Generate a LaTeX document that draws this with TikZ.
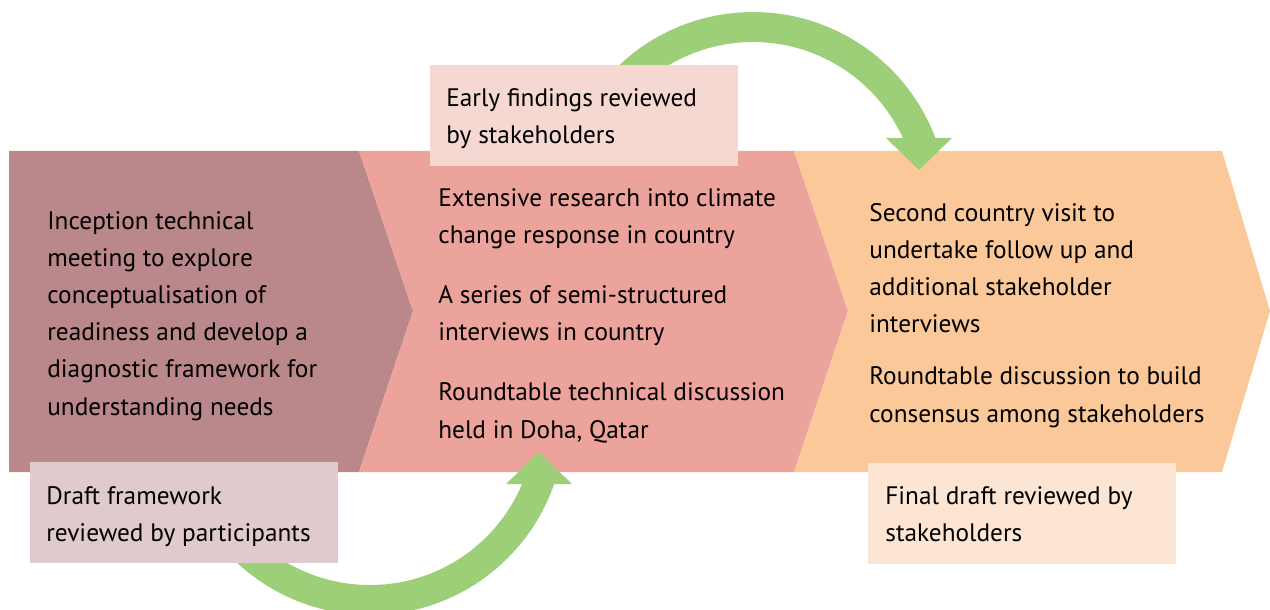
\documentclass[tikz,border=0pt]{standalone}
\usepackage{fontspec}
\setmainfont{PT Sans}
\definecolor{chevA}{HTML}{BA888A}
\definecolor{chevB}{HTML}{ECA39C}
\definecolor{chevC}{HTML}{FBC89A}
\definecolor{noteA}{HTML}{E0CACD}
\definecolor{noteB}{HTML}{F5D8D2}
\definecolor{noteC}{HTML}{FDE5D3}
\definecolor{loopgreen}{HTML}{9CCF78}
\tikzset{
  steptext/.style={anchor=base west, align=left, inner sep=0pt, text=black,
    font=\fontsize{14.4}{21.15}\selectfont},
  notebox/.style={anchor=south west, inner sep=0pt, minimum width=6.16cm, minimum height=2.02cm},
  loopshaft/.style={draw=loopgreen, line width=0.6cm}
}
\begin{document}
\begin{tikzpicture}[x=0.02cm, y=0.02cm]
  \useasboundingbox (0,0) rectangle (1270,609);
  % les trois chevrons
  \fill [chevA] (9,458) -- (359,458) -- (413,298) -- (359,137) -- (9,137) -- cycle;
  \fill [chevB] (359,458) -- (794,458) -- (848,298) -- (794,137) -- (359,137) -- (413,298) -- cycle;
  \fill [chevC] (794,458) -- (1222,458) -- (1270,298) -- (1222,137) -- (794,137) -- (848,298) -- cycle;

  % fleches vertes (arcs de cercle, pointe verticale)
  \coordinate (loopAstart) at (242.7,61.7);
  \coordinate (loopAtip) at (539,157);
  \draw [loopshaft] (loopAstart) arc [start angle=225, end angle=343, radius=180];
  \fill [loopgreen] (506,125) -- (572,125) -- (loopAtip) -- cycle;

  \coordinate (loopBstart) at (605.6,505.2);
  \coordinate (loopBtip) at (919,439);
  \draw [loopshaft] (loopBstart) arc [start angle=145, end angle=19, radius=180];
  \fill [loopgreen] (886,471) -- (952,471) -- (loopBtip) -- cycle;

  % encadres
  \node [notebox, fill=noteA] (draft) at (30,46) {};
  \node [notebox, fill=noteB] (early) at (430,443) {};
  \node [notebox, fill=noteC] (final) at (868,45) {};

  % textes (ancre sur la derniere ligne)
  \node [steptext] (inception) at (47,194) {Inception technical\\meeting to explore\\conceptualisation of\\readiness and develop a\\diagnostic framework for\\understanding needs};
  \node [steptext] (research) at (438,171) {Extensive research into climate\\change response in country\\[0.46cm]A series of semi-structured\\interviews in country\\[0.46cm]Roundtable technical discussion\\held in Doha, Qatar};
  \node [steptext] (second) at (869,187) {Second country visit to\\undertake follow up and\\additional stakeholder\\interviews\\[0.3cm]Roundtable discussion to build\\consensus among stakeholders};

  \node [steptext] (drafttxt) at ([shift={(16,-80)}]draft.north west) {Draft framework\\reviewed by participants};
  \node [steptext] (earlytxt) at ([shift={(16,-79)}]early.north west) {Early findings reviewed\\by stakeholders};
  \node [steptext] (finaltxt) at ([shift={(17,-79)}]final.north west) {Final draft reviewed by\\stakeholders};
\end{tikzpicture}
\end{document}
